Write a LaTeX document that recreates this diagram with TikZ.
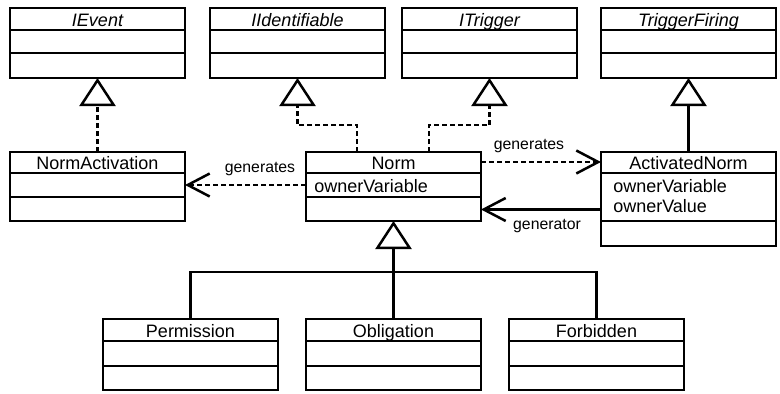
\documentclass[tikz,border=0pt]{standalone}
\usepackage{fontspec}
\setmainfont{Liberation Sans}
\usetikzlibrary{arrows.meta}

% UML class box: #1 name, #2 left, #3 right, #4 top, #5 title rule,
% #6 attribute rule, #7 bottom, #8 class name
\newcommand\umlclass[8]{%
  \node[classbox, minimum width={(#3-#2)*1pt}, minimum height={(#7-#4)*1pt},
        anchor=north west] (#1) at (#2,#4) {};
  \draw[boxrule] (#2,#5) -- (#3,#5) (#2,#6) -- (#3,#6);
  \node[titletext] (#1-title) at ({(#2+#3)/2},{#5-3.5}) {#8};
}

\begin{document}
\begin{tikzpicture}[x=1pt,y=-1pt,
  line width=2.5pt,
  classbox/.style={draw, line width=2.5pt, inner sep=0pt, outer sep=0pt, fill=white},
  boxrule/.style={line width=2.5pt},
  titletext/.style={inner sep=0pt, anchor=base, font=\fontsize{18}{21}\selectfont},
  attrtext/.style={inner sep=0pt, anchor=base west, font=\fontsize{18}{21}\selectfont},
  lbl/.style={inner sep=0pt, anchor=base, font=\fontsize{15.8}{19}\selectfont},
  dashline/.style={dash pattern=on 5pt off 3pt},
  realize/.style={dashline, -{Triangle[open, length=28pt, width=36pt, fill=white]}},
  generalize/.style={-{Triangle[open, length=28pt, width=36pt, fill=white]}},
  dep/.style={dashline, -{Straight Barb[length=22pt, width=23pt]}},
  assoc/.style={-{Straight Barb[length=22pt, width=23pt]}},
  plain/.style={},
]
\useasboundingbox (0,0) rectangle (780,394);

% interfaces / base classes
\umlclass{IEvent}{10}{185}{8}{30}{53}{78}{\itshape IEvent}
\umlclass{IIdentifiable}{210}{385}{8}{30}{53}{78}{\itshape IIdentifiable}
\umlclass{ITrigger}{402}{577}{8}{30}{53}{78}{\itshape ITrigger}
\umlclass{TriggerFiring}{601}{776}{8}{30}{53}{78}{\itshape TriggerFiring}

% middle row
\umlclass{NormActivation}{10}{185}{152}{173}{197}{221}{NormActivation}
\umlclass{Norm}{306}{481}{152}{173}{197}{221}{Norm}
\umlclass{ActivatedNorm}{601}{776}{152}{173}{221}{246}{ActivatedNorm}

\node[attrtext] (Norm-owner) at (313,192) {ownerVariable};
\node[attrtext] (ActivatedNorm-owner) at (612,192) {ownerVariable};
\node[attrtext] (ActivatedNorm-value) at (612,212) {ownerValue};

% subclasses
\umlclass{Permission}{103}{278}{319}{341}{366}{390}{Permission}
\umlclass{Obligation}{306}{481}{319}{341}{366}{390}{Obligation}
\umlclass{Forbidden}{509}{684}{319}{341}{366}{390}{Forbidden}

% realizations
\draw[realize] (NormActivation.north) -- (IEvent.south);
\draw[realize] ([xshift=-36.5pt]Norm.north) -- ++(0,-27) -| (IIdentifiable.south);
\draw[realize] ([xshift=35.5pt]Norm.north) -- ++(0,-27) -| (ITrigger.south);

% generalization of ActivatedNorm
\draw[generalize] (ActivatedNorm.north) -- (TriggerFiring.south);

% dependencies and association
\draw[dep] ([yshift=1.5pt]Norm.west) -- ([yshift=1.5pt]NormActivation.east);
\draw[dep] ([yshift=24.5pt]Norm.east) -- ([yshift=37pt]ActivatedNorm.west);
\draw[assoc] ([yshift=-10.5pt]ActivatedNorm.west) -- ([yshift=-23pt]Norm.east);

\node[lbl] (lbl-gen-left) at (260,172) {generates};
\node[lbl] (lbl-gen-right) at (529,149) {generates};
\node[lbl] (lbl-generator) at (547,229) {generator};

% inheritance tree below Norm
\coordinate (fork) at (Obligation.north |- 0,272);
\draw[generalize] (fork) -- (Norm.south);
\draw[plain] (Obligation.north) -- (fork);
\draw[plain] (Permission.north) |- (fork) -| (Forbidden.north);
\end{tikzpicture}
\end{document}
